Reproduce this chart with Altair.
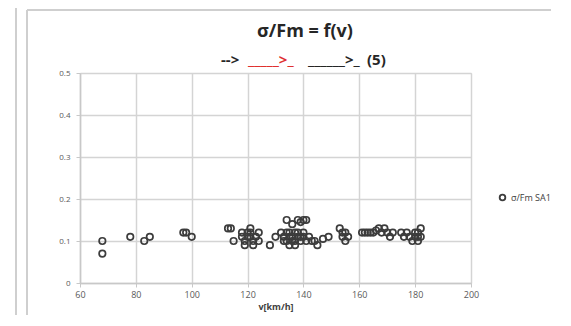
import altair as alt
import pandas as pd

speed = [68, 68, 78, 83, 85, 97, 98, 100, 113, 114, 115, 118, 118, 119, 119, 120, 120, 121, 121, 121,
         122, 122, 123, 124, 124, 128, 130, 132, 133, 133, 134, 134, 134, 135, 135, 135, 136, 136, 136,
         137, 137, 137, 138, 138, 138, 139, 139, 139, 140, 140, 140, 141, 141, 142, 143, 144, 145, 147,
         149, 153, 154, 154, 155, 155, 156, 161, 162, 163, 164, 165, 166, 167, 168, 169, 170, 171, 172,
         175, 176, 177, 178, 179, 180, 180, 181, 181, 182, 182, 181]
ratio = [0.10, 0.07, 0.11, 0.10, 0.11, 0.12, 0.12, 0.11, 0.13, 0.13, 0.10, 0.12, 0.11, 0.10, 0.09, 0.11,
         0.12, 0.13, 0.12, 0.11, 0.10, 0.09, 0.11, 0.10, 0.12, 0.09, 0.11, 0.12, 0.11, 0.10, 0.15, 0.12,
         0.10, 0.09, 0.11, 0.12, 0.14, 0.10, 0.11, 0.12, 0.09, 0.10, 0.15, 0.11, 0.12, 0.145, 0.10, 0.11,
         0.15, 0.12, 0.11, 0.10, 0.15, 0.11, 0.10, 0.10, 0.09, 0.105, 0.11, 0.13, 0.12, 0.11, 0.12, 0.10,
         0.11, 0.12, 0.12, 0.12, 0.12, 0.12, 0.125, 0.13, 0.12, 0.13, 0.12, 0.11, 0.12, 0.12, 0.11, 0.12,
         0.11, 0.10, 0.12, 0.11, 0.10, 0.12, 0.13, 0.11, 0.11]
series_name = "σ/Fm SA1"
x_ticks = [60, 80, 100, 120, 140, 160, 180, 200]
y_ticks = [0, 0.1, 0.2, 0.3, 0.4, 0.5]

df = pd.DataFrame({"v": speed, "r": ratio, "s": series_name})

FONT = "Open Sans"

points = alt.Chart(df).mark_point(
    shape="circle", filled=False, size=42, strokeWidth=1.7, opacity=1
).encode(
    x=alt.X("v:Q", scale=alt.Scale(domain=[60, 200], nice=False),
            axis=alt.Axis(values=x_ticks, title="v[km/h]", titleFontSize=9, titleFontWeight="bold",
                          titleColor="#404040", titleFont=FONT, titlePadding=3,
                          labelFont=FONT, labelFontSize=9, labelColor="#595959", labelFlush=False,
                          gridColor="#d4d4d4", gridWidth=1.5, domainColor="#c8c8c8", domainWidth=1.5,
                          tickColor="#c8c8c8", tickSize=4, labelPadding=3)),
    y=alt.Y("r:Q", scale=alt.Scale(domain=[0, 0.5], nice=False),
            axis=alt.Axis(values=y_ticks, title=None, format=".1~f", labelFlush=False,
                          labelFont=FONT, labelFontSize=8, labelColor="#595959",
                          gridColor="#d4d4d4", gridWidth=1.5, domainColor="#c8c8c8", domainWidth=1.5,
                          tickColor="#c8c8c8", tickSize=4, labelPadding=6)),
    stroke=alt.Stroke("s:N", scale=alt.Scale(range=["#3c3c3c"]),
                      legend=alt.Legend(title=None, orient="none", legendX=418, legendY=120,
                                        labelFont=FONT, labelFontSize=9, labelColor="#404040",
                                        labelLimit=200,
                                        symbolSize=32, symbolStrokeWidth=1.8, symbolType="circle")),
)

def txt(s, x, y, size, color="#262626", align="left"):
    return alt.Chart().mark_text(font=FONT, fontSize=size, fontWeight="bold", color=color,
                                 align=align, baseline="middle").encode(
        x=alt.value(x), y=alt.value(y), text=alt.value(s))

title1 = txt("σ/Fm = f(v)", 225, -41, 18, align="center")
t2a = txt("-->", 141, -13, 15)
t2b = txt("_____>_", 168, -13, 15, color="#e03030")
t2c = txt("______>_", 228, -13, 15)
t2d = txt("(5)", 287, -13, 15)

border_left1 = alt.Chart().mark_rule(color="#cfcfcf", strokeWidth=2).encode(
    x=alt.value(-64), y=alt.value(-80), y2=alt.value(245))
border_left2 = alt.Chart().mark_rule(color="#cfcfcf", strokeWidth=2).encode(
    x=alt.value(-53), y=alt.value(-63), y2=alt.value(245))
border_top = alt.Chart().mark_rule(color="#cfcfcf", strokeWidth=2).encode(
    x=alt.value(-53), x2=alt.value(500), y=alt.value(-63))

chart = alt.layer(border_left1, border_left2, border_top, points,
                  title1, t2a, t2b, t2c, t2d).properties(
    width=391, height=210,
    autosize=alt.AutoSizeParams(type="none"),
    padding={"left": 72, "top": 65, "right": 80, "bottom": 32},
).configure_view(stroke=None).configure(background="white")

chart.save("out.html", embed_options={"renderer": "svg", "actions": False})
